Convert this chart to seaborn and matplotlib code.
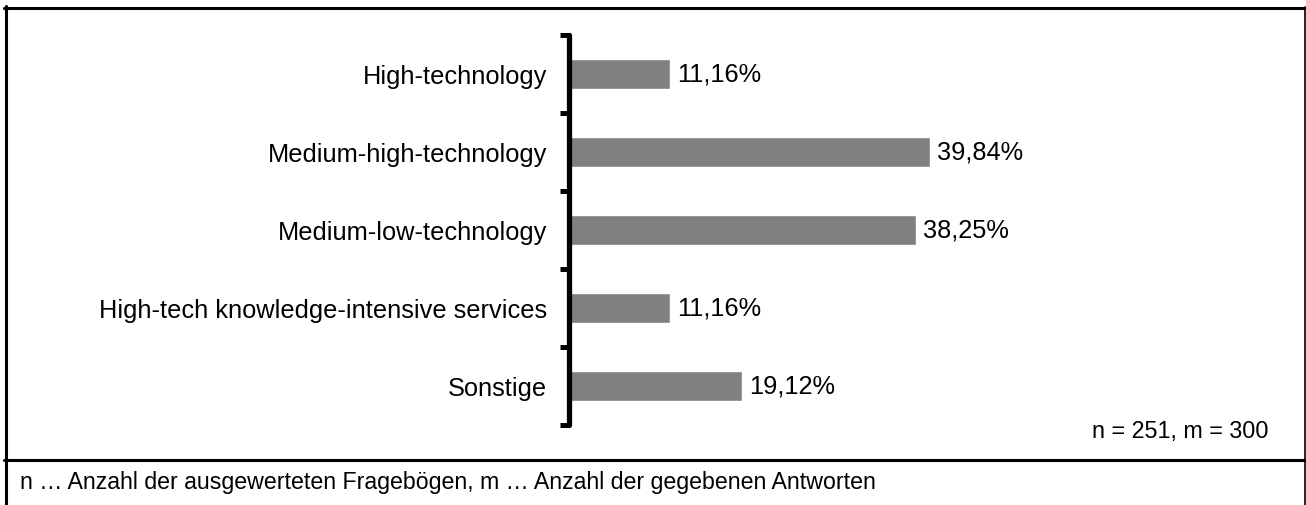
import numpy as np
import matplotlib
matplotlib.use("Agg")
import matplotlib.pyplot as plt
from matplotlib.lines import Line2D
import seaborn as sns

# data
categories = [
    "High-technology",
    "Medium-high-technology",
    "Medium-low-technology",
    "High-tech knowledge-intensive services",
    "Sonstige",
]
values = [11.16, 39.84, 38.25, 11.16, 19.12]
value_labels = ["11,16%", "39,84%", "38,25%", "11,16%", "19,12%"]
sample_note = "n = 251, m = 300"
footnote = "n \u2026 Anzahl der ausgewerteten Frageb\u00f6gen, m \u2026 Anzahl der gegebenen Antworten"

sns.set_style("white")
plt.rcParams["font.family"] = ["Liberation Sans", "DejaVu Sans"]
plt.rcParams["text.color"] = "black"
plt.rcParams["ytick.color"] = "black"
plt.rcParams["ytick.labelcolor"] = "black"

W, H = 1306, 506
fig = plt.figure(figsize=(W / 100, H / 100), dpi=100)
ax = fig.add_axes([569 / W, 1 - 426 / H, (1297 - 569) / W, (426 - 36) / H])

sns.barplot(x=values, y=categories, orient="h", color="#808080",
            width=0.38, saturation=1, ax=ax)

ax.set_xlim(0, (1297 - 569) / 9.07)
ax.set_ylim(4.5, -0.5)
ax.set_xlabel("")
ax.set_ylabel("")
ax.set_xticks([])

# category labels at centers, tick marks at boundaries
ax.set_yticks(np.arange(len(categories)))
ax.set_yticklabels(categories, fontsize=18.3)
ax.tick_params(axis="y", which="major", left=True, length=0, pad=16)
ax.set_yticks(np.arange(len(categories) + 1) - 0.5, minor=True)
ax.tick_params(axis="y", which="minor", left=True, length=6.5, width=3.6,
               direction="out", color="black")

for side in ["top", "right", "bottom"]:
    ax.spines[side].set_visible(False)
ax.spines["left"].set_linewidth(3.8)
ax.spines["left"].set_color("black")
ax.spines["left"].set_capstyle("round")
ax.spines["left"].set_zorder(5)

ax.bar_label(ax.containers[0], labels=value_labels, padding=5, fontsize=18.3)

# notes
fig.text(1268 / W, 1 - 432 / H, sample_note, ha="right", va="center", fontsize=16.8)
fig.text(20 / W, 1 - 483 / H, footnote, ha="left", va="center", fontsize=16.7)

# outer frame and divider
def fline(x0, y0, x1, y1, lw):
    fig.add_artist(Line2D([x0 / W, x1 / W], [1 - y0 / H, 1 - y1 / H],
                          transform=fig.transFigure, color="black", lw=lw))

fline(5.5, 7, 5.5, 506, 2.2)
fline(4, 8.5, 1306, 8.5, 2.2)
fline(1304.5, 8, 1304.5, 506, 1.2)
fline(4, 461, 1306, 461, 2.2)

fig.savefig("out.png", dpi=100)
